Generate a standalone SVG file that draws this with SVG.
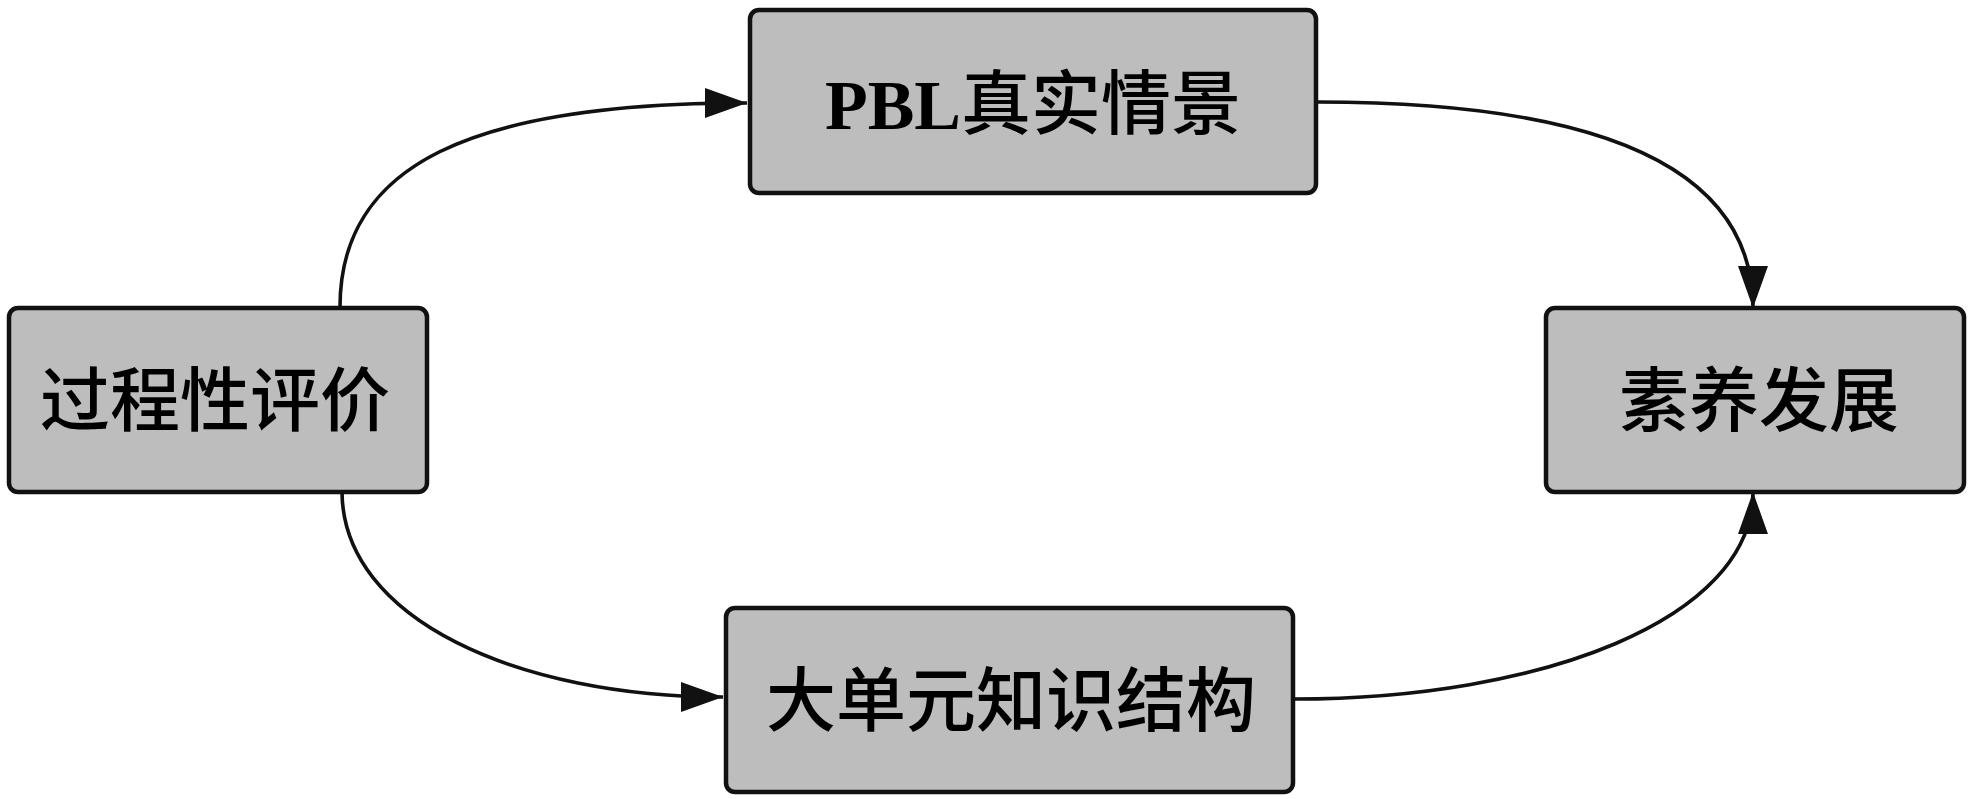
<svg xmlns="http://www.w3.org/2000/svg" width="1969" height="799" viewBox="0 0 1969 799">
<style>
.box{fill:#bdbdbd;stroke:#111;stroke-width:4.5}
.lbl{font-family:"Noto Sans CJK SC","Noto Sans CJK TC",sans-serif;font-size:70px;font-weight:500;fill:#000;text-anchor:middle}
.lat{font-family:"Liberation Serif","Noto Sans CJK SC",serif;font-weight:bold}
.edge{fill:none;stroke:#111;stroke-width:3.6}
</style>
<defs>
<marker id="ah" markerUnits="userSpaceOnUse" markerWidth="44" markerHeight="32" viewBox="0 0 44 32" refX="42" refY="16" orient="auto">
<path d="M0,1 L42,16 L0,31 Z" fill="#111"/>
</marker>
</defs>
<rect width="1969" height="799" fill="#fff"/>
<g id="connectors">
<path class="edge" d="M340,307 C340,165 470,103 747,103" marker-end="url(#ah)"/>
<path class="edge" d="M1317,102 C1560,102 1753,150 1753,308" marker-end="url(#ah)"/>
<path class="edge" d="M342,491 C342,620 520,697 723,697" marker-end="url(#ah)"/>
<path class="edge" d="M1294,699 C1540,699 1753,620 1753,492" marker-end="url(#ah)"/>
</g>
<g id="node-pbl">
<rect class="box" x="750" y="10" width="566" height="183" rx="9"/>
<text class="lbl" x="1033" y="129"><tspan class="lat">PBL</tspan>真实情景</text>
</g>
<g id="node-process">
<rect class="box" x="9" y="308" width="418" height="184" rx="9"/>
<text class="lbl" x="215" y="426">过程性评价</text>
</g>
<g id="node-literacy">
<rect class="box" x="1546" y="308" width="418" height="184" rx="9"/>
<text class="lbl" x="1759" y="426">素养发展</text>
</g>
<g id="node-unit">
<rect class="box" x="726" y="608" width="567" height="184" rx="9"/>
<text class="lbl" x="1011" y="726">大单元知识结构</text>
</g>
</svg>
